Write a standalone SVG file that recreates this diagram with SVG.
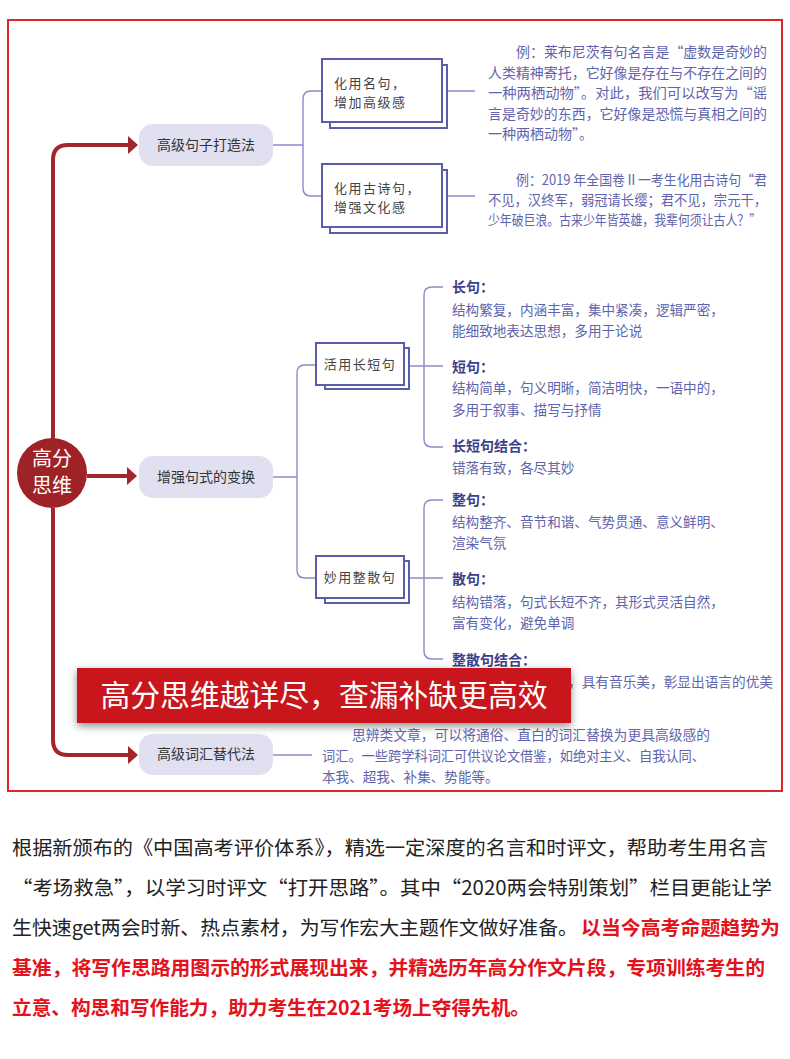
<svg xmlns="http://www.w3.org/2000/svg" width="790" height="1059" viewBox="0 0 790 1059">
<defs>
<style>
.cjk{font-family:"Noto Sans CJK SC","Noto Sans",sans-serif;}
.node{fill:#e1e0f0;}
.ntxt{font-family:"Noto Sans CJK SC",sans-serif;font-size:14px;fill:#333;text-anchor:middle;}
.box{fill:#fff;stroke:#5b5da9;stroke-width:2;}
.btxt{font-family:"Noto Sans CJK SC",sans-serif;font-size:13px;fill:#444;letter-spacing:1.5px;}
.conn{fill:none;stroke:#8a8cc8;stroke-width:1.4;}
.red{fill:none;stroke:#a3262b;stroke-width:4;}
.body{font-family:"Noto Sans CJK SC",sans-serif;font-size:13.6px;fill:#6064ad;}
.ex{font-family:"Noto Sans CJK SC",sans-serif;font-size:14px;fill:#6064ad;}
.ttl{font-family:"Noto Sans CJK SC",sans-serif;font-size:14px;font-weight:bold;fill:#3d4189;}
.para{font-family:"Noto Sans CJK SC",sans-serif;font-size:19.5px;fill:#222;}
.pred{font-family:"Noto Sans CJK SC",sans-serif;font-size:19.5px;fill:#e3121b;font-weight:bold;}
</style>
<marker id="ah" markerUnits="userSpaceOnUse" markerWidth="12" markerHeight="20" refX="0" refY="9" orient="auto">
<path d="M0,0 L10,9 L0,18 z" fill="#a3262b"/>
</marker>
<filter id="sh" x="-10%" y="-30%" width="120%" height="170%">
<feDropShadow dx="0" dy="3" stdDeviation="4" flood-color="#000" flood-opacity="0.45"/>
</filter>
</defs>
<rect width="790" height="1059" fill="#fff"/>
<rect x="8" y="20" width="774" height="771" fill="none" stroke="#df262b" stroke-width="2"/>

<g id="connectors">
<path class="red" d="M53,440 V160 Q53,145 68,145 H128" marker-end="url(#ah)"/>
<path class="red" d="M87,476 H127" marker-end="url(#ah)"/>
<path class="red" d="M53,508 V740 Q53,755 68,755 H128" marker-end="url(#ah)"/>
<path class="conn" d="M273,145 H303 M322,91 H311 Q303,91 303,99 V188 Q303,196 311,196 H322"/>
<path class="conn" d="M447,91 H475 M447,196 H475"/>
<path class="conn" d="M273,477 H297 M316,365 H305 Q297,365 297,373 V570 Q297,578 305,578 H316"/>
<path class="conn" d="M409,366 H443 M443,287 H432 Q424,287 424,295 V439 Q424,447 432,447 H443"/>
<path class="conn" d="M409,578 H443 M443,500 H432 Q424,500 424,508 V651 Q424,659 432,659 H443"/>
<path class="conn" d="M273,755 H312"/>
</g>

<g id="root">
<circle cx="52" cy="473" r="35" fill="#9f2227"/>
<text class="cjk" x="52" y="466" font-size="20" fill="#fff" text-anchor="middle">高分</text>
<text class="cjk" x="52" y="493" font-size="20" fill="#fff" text-anchor="middle">思维</text>
</g>

<g id="n1">
<rect class="node" x="139" y="124" width="134" height="42" rx="14"/>
<text class="ntxt" x="206" y="150">高级句子打造法</text>
</g>
<g id="n2">
<rect class="node" x="139" y="456" width="134" height="42" rx="14"/>
<text class="ntxt" x="206" y="482">增强句式的变换</text>
</g>
<g id="n3">
<rect class="node" x="139" y="734" width="134" height="41" rx="14"/>
<text class="ntxt" x="206" y="759">高级词汇替代法</text>
</g>

<g id="b1">
<rect class="box" x="330" y="65" width="117" height="63"/>
<rect class="box" x="322" y="59" width="120" height="63"/>
<text class="btxt" x="334" y="88">化用名句，</text>
<text class="btxt" x="334" y="107">增加高级感</text>
</g>
<g id="b2">
<rect class="box" x="330" y="170" width="117" height="63"/>
<rect class="box" x="322" y="164" width="120" height="63"/>
<text class="btxt" x="334" y="193">化用古诗句，</text>
<text class="btxt" x="334" y="212">增强文化感</text>
</g>
<g id="b3">
<rect class="box" x="325" y="348" width="84" height="41"/>
<rect class="box" x="316" y="343" width="88" height="42"/>
<text class="btxt" x="360" y="369" text-anchor="middle">活用长短句</text>
</g>
<g id="b4">
<rect class="box" x="325" y="561" width="84" height="42"/>
<rect class="box" x="316" y="556" width="88" height="42"/>
<text class="btxt" x="360" y="582" text-anchor="middle">妙用整散句</text>
</g>

<g id="t1">
<text class="ex" x="516" y="57" textLength="251" lengthAdjust="spacingAndGlyphs">例：莱布尼茨有句名言是“虚数是奇妙的</text>
<text class="ex" x="488" y="77.5" textLength="279" lengthAdjust="spacingAndGlyphs">人类精神寄托，它好像是存在与不存在之间的</text>
<text class="ex" x="488" y="98" textLength="279" lengthAdjust="spacingAndGlyphs">一种两栖动物”。对此，我们可以改写为“谣</text>
<text class="ex" x="488" y="118.5" textLength="279" lengthAdjust="spacingAndGlyphs">言是奇妙的东西，它好像是恐慌与真相之间的</text>
<text class="ex" x="488" y="139">一种两栖动物”。</text>
</g>
<g id="t2">
<text class="ex" x="516" y="185" textLength="251" lengthAdjust="spacingAndGlyphs">例：2019 年全国卷Ⅱ一考生化用古诗句“君</text>
<text class="ex" x="488" y="205" textLength="279" lengthAdjust="spacingAndGlyphs">不见，汉终军，弱冠请长缨；君不见，宗元干，</text>
<text class="ex" x="488" y="225" font-size="12.4" textLength="273" lengthAdjust="spacingAndGlyphs">少年破巨浪。古来少年皆英雄，我辈何须让古人？”</text>
</g>

<g id="t3">
<text class="ttl" x="452" y="292">长句：</text>
<text class="body" x="452" y="315">结构繁复，内涵丰富，集中紧凑，逻辑严密，</text>
<text class="body" x="452" y="336">能细致地表达思想，多用于论说</text>
<text class="ttl" x="452" y="372">短句：</text>
<text class="body" x="452" y="393">结构简单，句义明晰，简洁明快，一语中的，</text>
<text class="body" x="452" y="415">多用于叙事、描写与抒情</text>
<text class="ttl" x="452" y="451">长短句结合：</text>
<text class="body" x="452" y="473">错落有致，各尽其妙</text>
</g>
<g id="t4">
<text class="ttl" x="452" y="505">整句：</text>
<text class="body" x="452" y="527">结构整齐、音节和谐、气势贯通、意义鲜明、</text>
<text class="body" x="452" y="548">渲染气氛</text>
<text class="ttl" x="452" y="584">散句：</text>
<text class="body" x="452" y="607">结构错落，句式长短不齐，其形式灵活自然，</text>
<text class="body" x="452" y="628">富有变化，避免单调</text>
<text class="ttl" x="452" y="665">整散句结合：</text>
<text class="body" x="568" y="687" textLength="205" lengthAdjust="spacingAndGlyphs">，具有音乐美，彰显出语言的优美</text>
</g>
<g id="t5">
<text class="body" x="352" y="740" textLength="358" lengthAdjust="spacingAndGlyphs">思辨类文章，可以将通俗、直白的词汇替换为更具高级感的</text>
<text class="body" x="322" y="761" textLength="383" lengthAdjust="spacingAndGlyphs">词汇。一些跨学科词汇可供议论文借鉴，如绝对主义、自我认同、</text>
<text class="body" x="322" y="782">本我、超我、补集、势能等。</text>
</g>

<g id="banner">
<rect x="77" y="668" width="494" height="55" fill="#c8161e" filter="url(#sh)"/>
<text class="cjk" x="324" y="706" font-size="29.5" fill="#fff" text-anchor="middle" textLength="447" lengthAdjust="spacingAndGlyphs">高分思维越详尽，查漏补缺更高效</text>
</g>

<g id="paragraph">
<text class="para" x="12" y="855" textLength="756" lengthAdjust="spacingAndGlyphs">根据新颁布的《中国高考评价体系》，精选一定深度的名言和时评文，帮助考生用名言</text>
<text class="para" x="12" y="895" textLength="760" lengthAdjust="spacingAndGlyphs">“考场救急”，以学习时评文“打开思路”。其中“2020两会特别策划”栏目更能让学</text>
<text class="para" x="12" y="935" textLength="566" lengthAdjust="spacingAndGlyphs">生快速get两会时新、热点素材，为写作宏大主题作文做好准备。</text>
<text class="pred" x="581" y="935" textLength="199" lengthAdjust="spacingAndGlyphs">以当今高考命题趋势为</text>
<text class="pred" x="12" y="975" textLength="753" lengthAdjust="spacingAndGlyphs">基准，将写作思路用图示的形式展现出来，并精选历年高分作文片段，专项训练考生的</text>
<text class="pred" x="12" y="1015" textLength="518" lengthAdjust="spacingAndGlyphs">立意、构思和写作能力，助力考生在2021考场上夺得先机。</text>
</g>
</svg>
